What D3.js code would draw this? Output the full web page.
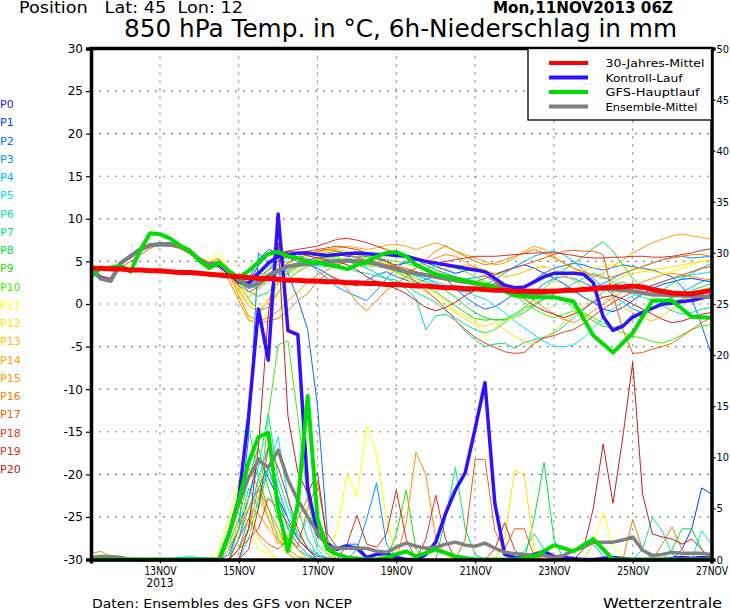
<!DOCTYPE html>
<html>
<head>
<meta charset="utf-8">
<script src="https://cdn.jsdelivr.net/npm/d3@7"></script>
<style>
  body { margin: 0; background: #fff; }
  svg { display: block; font-family: "DejaVu Sans", sans-serif; }
</style>
</head>
<body>
<div id="chart"></div>
<script>
// GFS ensemble, run Mon 11NOV2013 06Z, 6-hourly steps (64 steps up to 27NOV 00Z)
var runStart = Date.UTC(2013, 10, 11, 6);
var stepCount = 64;

var xTickDays = [13, 15, 17, 19, 21, 23, 25, 27];
var tempTicks = [-30, -25, -20, -15, -10, -5, 0, 5, 10, 15, 20, 25, 30];
var precipTicks = [0, 5, 10, 15, 20, 25, 30, 35, 40, 45, 50];

var memberNames = ['P0','P1','P2','P3','P4','P5','P6','P7','P8','P9','P10',
  'P11','P12','P13','P14','P15','P16','P17','P18','P19','P20'];
var memberColors = ['#3010ff','#0040ff','#0070ff','#0090ff','#00b0ff','#00e0ff',
  '#00e0b0','#00e080','#00e040','#20e000','#40f000','#ffff00','#ffe000',
  '#ffc000','#ffa000','#ff9000','#f08000','#f06000','#e04020','#d03020','#c02020'];

var legendNames = ['30-Jahres-Mittel', 'Kontroll-Lauf', 'GFS-Hauptlauf', 'Ensemble-Mittel'];

// 30-Jahres-Mittel (850 hPa temperature)
var climMean = [
  4.2,4.2,4.1,4.1,4.0,4.0,3.9,3.9,
  3.8,3.7,3.7,3.6,3.5,3.4,3.3,3.2,
  3.1,3.0,3.0,2.9,2.8,2.8,2.7,2.7,
  2.6,2.6,2.5,2.5,2.4,2.4,2.3,2.3,
  2.2,2.1,2.1,2.0,1.9,1.9,1.8,1.8,
  1.7,1.6,1.6,1.5,1.5,1.5,1.5,1.5,
  1.6,1.6,1.7,1.8,1.9,2.0,2.0,2.1,
  2.0,1.7,1.5,1.3,1.2,1.2,1.4,1.6];

// Kontroll-Lauf
var controlTemp = [
  4.0,3.1,2.8,4.8,5.6,6.4,6.9,7.0,
  7.0,6.8,6.2,5.2,4.6,4.6,3.6,2.6,
  2.4,3.6,4.8,5.6,5.8,6.0,6.0,5.8,
  5.7,5.8,5.9,6.0,5.9,5.8,5.8,5.7,
  5.6,5.3,5.0,4.8,4.6,4.4,4.2,4.0,
  3.8,3.0,2.2,1.9,2.0,2.6,3.2,3.6,
  3.6,3.6,3.5,2.5,-1.5,-3.1,-2.6,-1.5,
  -1.0,-0.5,0.0,0.1,0.3,0.4,0.7,1.0];
var controlPrecip = [
  0,0,0,0,0,0,0,0,
  0,0,0,0,0,0,2.5,6,
  14,24.5,19.5,33.8,22.4,22,7,2.5,
  1.5,1.0,1.3,1.1,0.2,0.5,0.6,0.2,
  0,0,0.5,1.7,4.5,6.8,8.5,12.8,
  17.3,5.5,0.5,0.2,0.2,0.5,0.8,0.3,
  0.2,0.1,0,0,0.1,0.2,0.1,0,
  0,0,0,0.1,0.2,0.1,0.2,0.1];

// GFS-Hauptlauf (12-hourly after day 8)
var gfsTemp = [
  3.2,4.2,4.3,4.5,3.8,6.3,8.3,8.2,
  7.7,6.9,6.3,5.1,4.2,4.9,3.9,3.1,
  3.9,4.9,5.9,6.1,5.6,5.4,4.9,4.9,
  4.6,4.4,4.1,4.6,4.9,5.6,6.0,6.1,
  5.6,4.6,null,3.5,null,3.0,null,2.5,
  null,2.0,null,1.0,null,0.8,null,0.8,
  null,0.3,null,-3.7,null,-5.7,null,-3.4,
  null,0.4,null,0.4,null,-1.5,null,-1.6];
var gfsPrecip = [
  0,0,0,0,0,0,0,0,
  0,0,0,0,0,0,2.5,5.8,
  9.5,12.0,12.4,5,0.8,5.5,16,4,
  1,0.5,0.2,0.1,0,0,0.2,0.5,
  0.8,0.3,null,1.0,null,0.3,null,0,
  null,0,null,0,null,0.3,null,1.4,
  null,0.8,null,2.0,null,0,null,0,
  null,0,null,0,null,0,null,0];

// Ensemble-Mittel
var ensMeanTemp = [
  4.0,3.0,2.7,4.8,5.6,6.4,6.9,7.0,
  7.0,6.8,6.2,5.2,4.6,4.8,3.8,2.8,
  2.1,2.4,3.3,3.9,4.4,4.6,4.7,4.8,
  5.0,5.0,5.1,5.0,4.9,4.7,4.4,4.1,
  3.8,3.6,3.4,3.2,3.0,2.8,2.6,2.4,
  2.2,2.0,1.8,1.5,1.3,1.2,1.3,1.4,
  1.5,1.6,1.7,1.8,1.8,1.7,1.6,1.5,
  1.3,1.1,1.1,1.0,1.0,0.9,0.9,0.8];
var ensMeanPrecip = [
  0.2,0.3,0.3,0.2,0,0,0,0,
  0,0,0,0,0,0,2.5,5.5,
  8.0,9.7,9.0,10.7,7.8,5.8,4.2,2.6,
  1.3,1.1,1.1,1.1,1.1,0.8,0.7,1.2,
  1.6,1.3,1.1,1.2,1.5,1.7,1.4,1.3,
  1.6,1.1,0.7,0.6,0.5,0.4,0.4,0.2,
  0.4,0.9,1.2,1.7,1.7,1.7,1.9,2.2,
  0.9,0.4,0.5,0.7,0.6,0.6,0.6,0.5];

// members P1..P20: temperature
var memberTemp = [
  [4.1,3.2,2.9,4.6,5.5,6.2,6.8,7.1, 7.2,6.9,6.0,5.1,4.4,4.9,3.9,2.5, 2.6,4.5,5.8,6.2,6.0,5.5,5.2,5.4, 5.6,5.8,5.6,5.5,5.6,5.3,5.0,4.6,
   4.8,5.2,4.9,4.4,4.0,3.6,3.9,4.2, 3.8,3.5,3.9,4.3,4.6,4.2,3.6,3.0, 2.4,1.6,0.8,0.2,-0.6,-0.9,-0.4,0.4, 1.2,1.8,2.3,2.6,2.9,3.0,2.8,2.6],
  [3.9,3.0,2.8,5.0,5.8,6.6,7.0,7.0, 6.9,6.7,6.2,5.3,4.7,4.9,3.6,2.8, 2.9,5.2,6.4,6.0,5.4,5.0,4.6,4.2, 3.5,2.8,2.4,2.1,2.8,3.4,3.8,3.2,
   2.8,2.4,2.9,3.3,3.0,1.8,0.8,0.0, -0.6,-0.3,0.4,1.2,2.0,2.8,3.6,4.2, 4.5,4.8,4.6,4.2,4.0,4.3,4.6,4.4, 4.2,4.0,3.6,3.2,2.0,0.6,-2.5,-6.0],
  [4.2,3.3,3.0,4.9,5.7,6.5,7.0,7.2, 7.1,6.9,6.4,5.5,4.8,5.0,4.0,3.2, 3.0,3.6,4.6,5.4,5.8,5.9,5.0,3.9, 3.0,2.0,1.4,0.9,0.4,1.6,3.0,4.2,
   5.0,5.2,4.6,4.0,3.6,3.2,2.9,3.1, 3.3,2.6,1.8,1.0,0.8,1.4,2.4,3.0, 3.2,3.0,2.5,2.0,2.4,3.0,3.6,4.0, 4.4,4.8,5.2,5.5,5.6,5.4,5.5,5.6],
  [3.8,2.8,2.6,4.7,5.4,6.2,6.7,6.9, 6.9,6.6,6.0,5.0,4.5,4.6,3.5,2.4, 1.8,2.2,3.0,3.6,4.3,4.8,5.0,5.3, 5.5,5.2,5.0,4.8,4.5,4.4,4.2,3.9,
   3.6,3.3,3.0,2.4,1.9,1.6,1.4,1.6, 2.2,2.9,3.6,4.4,5.0,5.6,6.0,6.2, 5.8,5.0,4.0,3.0,2.0,1.0,0.2,-0.6, -1.0,-0.4,0.2,0.8,1.4,2.0,2.6,3.0],
  [4.0,3.1,2.8,4.8,5.6,6.3,6.8,6.9, 6.8,6.6,6.0,5.2,4.7,4.9,4.0,3.0, 2.2,1.8,2.6,3.4,4.0,4.4,4.6,4.5, 4.4,4.6,4.9,5.0,4.8,4.5,4.3,4.0,
   3.7,3.4,3.0,2.6,2.2,1.9,1.6,1.0, 0.6,-0.2,-1.0,-2.0,-2.8,-3.6,-4.4,-5.0, -5.0,-4.8,-4.0,-2.8,-1.6,-0.6,0.2,1.0, 1.6,2.2,2.6,3.0,3.2,3.4,3.6,3.8],
  [4.1,3.0,2.6,4.9,5.6,6.4,6.9,7.0, 7.0,6.8,6.3,5.3,4.6,4.7,3.9,3.0, 2.4,2.8,3.6,4.2,4.6,4.8,5.0,5.1, 5.0,4.6,4.2,3.8,3.6,3.3,3.0,2.8,
   2.2,1.4,0.8,0.2,-0.8,-1.6,-2.4,-3.0, -3.4,-3.0,-2.2,-1.4,-0.6,0.0,0.6,1.2, 1.8,2.4,3.0,3.6,3.2,2.6,1.8,1.2, 0.8,0.4,-0.2,-0.8,-1.2,-1.0,-0.6,-0.4],
  [3.9,2.9,2.6,4.7,5.5,6.3,6.9,7.1, 7.0,6.8,6.2,5.2,4.5,4.6,3.8,2.9, 2.5,3.4,4.4,5.0,5.6,5.9,6.1,6.0, 5.8,5.4,5.0,4.6,4.2,3.6,3.0,2.4,
   1.8,0.6,-3.0,-1.4,-1.2,-1.9,-3.2,-4.2, -5.0,-4.7,-4.6,-5.2,-4.5,-4.2,-3.9,-3.4, -2.6,-1.6,-0.6,0.4,1.4,2.2,2.6,2.0, 1.2,1.0,1.6,2.4,3.0,3.6,4.2,4.8],
  [4.0,3.0,2.8,4.9,5.8,6.6,7.1,7.2, 7.1,6.9,6.3,5.3,4.7,4.8,3.7,2.6, 1.5,0.9,1.4,2.6,3.6,4.4,4.9,5.2, 5.4,5.6,5.8,5.5,5.2,4.9,4.5,4.0,
   3.5,3.0,2.6,2.2,1.6,0.8,-0.2,-1.0, -1.6,-1.9,-1.8,-1.2,-0.4,0.6,1.8,3.0, 4.0,4.8,5.6,6.6,7.3,6.2,4.6,3.0, 2.0,1.4,1.0,0.8,1.0,1.6,2.0,2.4],
  [4.2,3.2,2.8,4.6,5.4,6.2,6.8,7.0, 6.9,6.7,6.1,5.1,4.5,4.7,3.6,2.2, 0.6,-0.8,-0.4,1.4,2.8,3.8,4.4,4.8, 5.0,5.2,5.3,5.2,5.0,4.7,4.3,3.8,
   3.2,2.6,2.0,1.4,0.6,-0.2,-1.0,-1.7, -1.9,-1.8,-1.9,-1.6,-1.0,-0.2,0.6,1.0, 0.4,-0.4,-1.2,-2.0,-2.6,-2.8,-2.4,-1.8, -1.2,-0.6,-0.2,0.2,0.6,1.0,1.2,1.4],
  [3.8,2.9,2.7,4.8,5.7,6.5,7.0,7.1, 7.0,6.8,6.2,5.2,4.6,4.7,3.9,3.0, 2.6,3.2,4.0,4.6,5.0,5.2,5.5,5.8, 6.0,6.2,6.0,5.8,5.6,5.4,5.2,5.0,
   4.8,4.4,4.2,4.4,4.6,4.2,3.8,3.2, 2.6,2.2,1.8,1.0,0.2,-0.6,-1.2,-1.6, -1.2,-0.8,-1.0,-1.6,-2.2,-2.8,-3.4,-3.8, -4.0,-4.4,-4.6,-4.2,-3.6,-3.0,-2.6,-2.4],
  [4.2,3.2,2.9,5.0,5.8,6.6,7.0,7.0, 6.8,6.6,6.0,5.4,5.2,6.1,4.0,1.2, -1.6,-2.4,-1.0,1.2,3.0,4.2,4.8,5.2, 5.4,5.5,5.2,4.8,4.6,4.4,4.6,4.8,
   3.6,3.0,2.2,1.2,0.4,-0.8,-1.4,-1.9, -4.0,-2.8,-2.0,-1.6,-0.6,0.4,1.4,2.2, 3.6,3.8,4.0,4.2,4.4,4.6,4.4,4.2, 4.0,3.8,3.6,3.8,4.2,4.6,5.0,5.2],
  [4.0,3.1,2.7,4.7,5.5,6.3,6.8,7.0, 7.0,6.7,6.1,5.3,4.9,5.4,3.8,1.8, 0.2,-0.6,0.6,2.4,3.8,4.6,5.0,5.4, 5.8,6.0,5.8,5.4,5.0,4.8,4.2,3.6,
   3.0,2.2,1.4,0.6,-0.2,-1.0,-1.8,-2.4, -2.6,-2.2,-3.0,-3.8,-4.4,-4.8,-4.0,-3.2, -2.2,-1.2,-0.2,0.8,1.8,2.6,3.2,3.6, 3.8,4.0,4.2,4.4,4.6,4.8,5.0,5.2],
  [4.1,3.2,2.9,4.9,5.6,6.4,6.9,7.0, 6.9,6.7,6.2,5.3,4.6,4.7,3.6,2.0, 0.8,1.6,3.0,4.0,4.8,5.4,5.8,6.0, 6.2,6.4,6.2,5.8,5.4,5.0,4.8,4.4,
   4.0,3.6,3.4,3.8,4.2,4.4,4.6,4.4, 4.0,3.6,3.2,3.4,3.8,4.2,4.4,4.0, 3.4,2.8,2.0,1.4,0.8,0.2,-0.4,-1.0, -1.6,-2.0,-1.4,-0.6,0.2,1.0,1.6,2.0],
  [3.9,2.9,2.6,4.6,5.4,6.2,6.7,6.9, 6.9,6.6,6.0,5.1,4.5,4.6,3.4,1.6, -0.2,-1.0,0.4,2.4,3.8,4.8,5.6,6.2, 6.4,6.6,6.8,6.6,6.4,6.6,6.9,7.0,
   6.8,6.4,6.8,7.2,6.8,6.2,5.8,5.4, 5.0,4.6,4.8,5.4,6.2,6.8,6.4,5.6, 4.8,4.2,3.6,3.2,3.6,4.4,5.2,6.0, 6.6,7.2,7.6,8.0,8.2,8.0,7.8,7.6],
  [4.2,3.3,3.0,5.0,5.8,6.5,6.9,7.0, 6.9,6.7,6.2,5.4,4.9,5.3,3.6,1.0, -1.4,-2.0,-1.6,-0.8,0.4,1.4,2.6,3.4, 4.0,4.6,5.0,5.2,5.0,4.6,4.2,4.0,
   3.8,4.2,4.8,5.4,5.8,5.6,5.0,4.2, 3.4,2.6,2.0,1.6,1.0,0.4,-0.4,-1.2, -1.8,-2.2,-1.6,-0.8,0.0,0.8,1.4,2.0, 2.6,3.0,3.4,3.6,3.4,3.2,3.0,2.8],
  [4.0,3.0,2.7,4.8,5.6,6.3,6.8,6.9, 6.8,6.5,5.9,5.0,4.4,4.3,2.8,0.4, -1.9,-2.3,-2.0,-1.7,-0.8,0.4,1.2,2.7, 3.5,3.0,1.8,0.2,-0.8,0.4,1.6,2.4,
   3.2,4.2,5.2,6.2,6.8,6.2,5.6,5.0, 4.6,4.8,5.2,5.6,6.0,6.4,6.0,5.4, 4.8,4.2,3.8,3.4,3.0,3.2,3.6,4.0, 4.4,4.8,5.2,5.4,5.6,5.8,5.8,5.6],
  [3.9,2.9,2.7,4.2,5.0,5.8,6.5,7.1, 7.0,6.8,6.2,5.2,4.6,4.5,3.4,2.2, 1.4,2.0,3.0,4.0,4.8,5.4,5.8,6.2, 6.4,6.2,5.8,5.4,5.0,4.8,4.6,4.4,
   4.2,3.8,3.4,3.0,2.8,2.6,2.4,2.6, 3.0,3.4,3.8,4.2,4.6,5.0,5.4,5.8, 6.2,6.3,6.2,6.2,5.8,1.0,-3.0,-5.8, -5.7,-5.3,-5.0,-4.6,-3.8,-3.0,-2.2,-1.6],
  [4.1,3.1,2.8,4.8,5.6,6.4,6.9,7.1, 7.1,6.9,6.3,5.4,4.8,4.9,3.8,2.6, 2.0,2.8,4.0,5.0,5.6,6.0,6.2,6.4, 6.6,6.8,6.6,6.4,6.0,5.6,5.0,4.4,
   3.6,2.6,1.6,0.6,-0.6,-1.9,-3.0,-3.9, -4.6,-5.1,-5.6,-5.8,-5.7,-4.6,-4.0,-3.7, -3.3,-3.0,-2.3,-1.4,-0.6,0.2,0.8,1.4, 1.8,2.2,2.6,3.0,3.4,3.8,4.2,4.4],
  [4.0,3.0,2.6,4.7,5.6,6.4,6.9,7.0, 7.0,6.8,6.2,5.2,4.7,4.9,4.0,3.2, 3.0,3.8,4.8,5.6,6.2,6.4,6.6,6.8, 7.2,7.6,7.7,7.5,7.2,6.8,6.4,6.0,
   5.6,5.2,5.0,4.8,5.0,5.2,5.4,5.6, 5.6,5.6,5.7,5.8,5.9,6.0,6.0,6.0, 5.9,5.7,5.5,5.4,5.4,5.5,5.5,5.6, 5.6,5.5,5.5,5.6,5.8,6.0,6.3,6.5],
  [4.1,3.2,2.9,4.9,5.7,6.5,7.0,7.1, 7.0,6.8,6.3,5.3,4.6,4.7,3.9,3.1, 2.8,3.6,4.8,5.9,6.2,6.0,5.7,5.4, 5.2,5.0,4.6,4.0,3.2,2.6,2.2,1.8,
   1.2,0.4,-0.4,-0.8,-0.4,0.2,1.0,1.6, 2.0,2.4,2.0,1.4,0.6,-0.2,-0.8,-1.2, -1.6,-1.2,-0.6,0.2,0.8,1.0,0.6,0.0, -0.6,-1.2,-1.8,-2.2,-2.0,-1.6,-1.2,-1.0]
];

// members P1..P20: 6h precipitation
var memberPrecip = [
  [0,0,0,0,0,0,0,0, 0,0,0,0,0,0,1,3, 6,10,8,6,4,2,1,0.3, 0.2,0,0,0,0,0,0,0,
   0,0,0,0,0,0,0,0, 0,0,0,0,0,0,0,0, 0,0,0,0,0,0,0,0, 0,0,0,0,1,3,7,6.4],
  [0,0,0,0,0,0,0,0, 0,0,0,0,0,0,0.5,3, 12,30,29,29.5,28,25.5,22.5,15, 2.5,1.2,1.5,1.5,0.3,0,0,0,
   0,0,0,0,0,0,0,0, 0,0,0,0,0,0,0,0, 0,0,0,0,0,0,0,0, 0,0,0,0,0,0,0,0],
  [0,0,0,0,0,0,0,0, 0,0,0,0,0,0,0,2, 5,7,9,6,3,1.5,0.5,0, 0,0,0,1,4,7.5,1.5,0.2,
   0,0,0,0,0,0,0,0, 0,0,0,0,0,0,0,0, 0,0,0,0,0,0,0,0, 0,0,0,0,0,0,0,0],
  [0,0,0,0,0,0,0,0, 0,0,0,0,0,0,0,1, 4,8,11,7,4,2,1,0, 0,0,0,0,0,0,0,0,
   0,0,0,0,0,0,0,0, 0,0,0,0,0,0,0,0, 0,0,0,1.5,0.3,0,0,0, 0,0,0,0,0,0,0,0],
  [0,0,0,0,0,0,0,0, 0,0.2,0.3,0.2,0,0,0,0, 2,6,9,12,6,2,4,1, 0,0,0,0,0,0,0,0,
   0,0,0,0,0,0,0,0, 0,0,0,0,0,0,0,0, 0,0,0,0,0,0,0,0, 0,0,0,0,0,0,2.8,1.5],
  [0,0,0,0,0,0,0,0, 0,0,0,0,0,0,0,2, 6,9,14.3,8,5,2.5,1.2,0.5, 0,0,0,0,0,0,0,0,
   0,0,0,0,0,0,0,0, 0,0,0,0,0.8,2.5,1,0, 0,0,0,0,0,0,0,0, 1,4.1,2.8,0.5,0,0,0,0],
  [0,0,0,0,0,0,0,0, 0,0,0,0,0,0,0,3, 7,5,9,6,3,5,2,0.5, 0,0,0,0,0,0,0,0,
   0,0,0,0,4,9,3,0.5, 0,0,0,0,0,0,0,0, 0,0,0,0,0,0,0,0, 0,0,0,0,0,0,0,0],
  [0,0,0,0,0,0,0,0, 0,0,0,0,0,0,1.5,4, 8,11,7,4,2,1,0.3,0, 0,0,0,0,0,0,0,0,
   0,0,0,0,0,0,0,0, 0,0,0,0,0,4,9.5,2, 0,0,0,0,0,0,0,0, 0,0,0,1,3,3,1,0],
  [0,0,0,0,0,0,0,0, 0,0,0,0,0,0,2,6, 13,8,5,2,1,0.3,0,0, 0,0,0,0,0,0,0,2.5,
   6.8,1,0,0,0,0,0,0, 0,0,0,0,0,0,0,0, 0,0,0,0,0,0,0,0, 0,0,0,0,0,0,0,0],
  [0,0,0,0,0,0,0,0, 0,0,0,0,0,0,0,1, 3,5,14,21,21.4,14,5.8,1.5, 0.5,0,0,0,0,0,0,0,
   0,0,0,0,0,0,0,0, 0,0,0,0,0,0,0,0, 0,0,0,0,0,0,0,0, 0,0,0,0,0,0,0,0],
  [0,0,0,0,0,0,0,0, 0,0,0,0,0,1,4,7.5, 3,1,0.5,0,0,0,0,0, 0,3,8.4,6.1,13,10.3,4,0.5,
   0,0,0,0,0,0,0,0, 0,0,0,0,0,0,0,0, 0,0,0,1.5,4.6,1.5,0,0, 0,0,0,0,0,0,0,0],
  [0,0,0,0,0,0,0,0, 0,0,0,0,0,0,2,5, 6,2,1,0,0,0,0,0, 0,0,0,0,0,0,0,0,
   0,0,0,0,0,0,0,0, 0,0,2,8.7,8.2,1,0,0, 0,0,0,0,0,0,0,0, 0,0,0,0,0,0,0,0],
  [0,0,0,0,0,0,0,0, 0,0,0,0,0,0,1,3.5, 5,6,4,2.5,1,0.3,0,0, 0,0,0,0,0,0,0,0,
   0,0,0,0,0,0,0,0, 0,0,0,0,0,0,0,0, 0,0,0,0,0,0,0,0, 0,0,0,0,0,0,0,0],
  [0,0,0,0,0,0,0,0, 0,0,0,0,0,0,1,3, 5,4.5,3,2,0.5,0,0,0, 0,0,0,0,0,0,0,0,
   0,0,0,0,0,0,0,0, 0,0,0,0,0,0,0,0, 0,0,0,0,0,0,0,0, 0,0,0,0,0,0,0,0],
  [0.6,0.8,0.3,0,0,0,0,0, 0,0,0,0,0,0,2,5, 9,7,4,1.5,2.5,1,0,0, 0,0,0,0,0,0,0,0,
   3.6,10.5,8.3,2,0.5,0,0,0, 0,0,0,0,0,0,0,0, 0,0,0,0,0,0,0,0, 0,0,0,0,0,0,0,0],
  [0,0,0,0,0,0,0,0, 0,0,0,0,0,0,0,1, 3,7,5,3,1,4,6,3, 1,0,0,0,0,0,0,0,
   0,0,0,0,0,0,0,0, 0,0,0,0,0,0,0,0, 0,0,0,0,0,0,0,3.9, 1,0,1.5,3.2,1,0,0,0],
  [0,0,0,0,0,0,0,0, 0,0,0,0,0,0,0,2, 4,2.5,1.5,1,2,1.2,5,7.5, 2,0.5,0,0,0,0,0,0,
   0,0,0,0,0,0,2,9.8, 9.8,2.8,1,3,3,0.3,0,0, 0,0,0,0,0,0,0,0, 0,0,0,0,0,0,0,0],
  [0,0,0,0,0,0,0,0, 0,0,0,0,0,0,0,1, 2,3,6,5,3.5,2,1,0, 0,0,0,0,0,0,0,0,
   0,0,0,0,0,0,0,0, 0,0,0,0,0,0,0,0, 0,0,0,0,0,0,0,0, 0,0,0,0,0,0,0,0],
  [0,0,0,0,0,0,0,0, 0,0,0,0,0,0,0,0, 1,5,11,9,6,3,1,0, 0,0,1.5,4.3,1.5,1.2,2.5,6.8,
   2,0,2,6.3,2,0,0,0, 0,1,3.6,1,0,0,0,0, 0,0,0,0,0,0,0,0, 0,0,0,0,0,0,0,0],
  [0,0,0,0,0,0,0,0, 0,0,0,0,0,0,0,0, 3,11,24,31,14,8.5,6.5,8.5, 1.5,0.5,0,0,0,0,0,0,
   0,0,0,0,0,0,0,0, 0,0,0,0,0,0,0,0, 0,0,1,5,11.3,5.5,12,19.3, 6.4,2.5,2.2,2.0,1.5,2.0,1.0,0]
];

var W = 730, H = 609;
var plotLeft = 91, plotRight = 711.5, plotTop = 48.5, plotBottom = 559.5;

var times = d3.range(stepCount).map(function(i) {
  return new Date(runStart + i * 6 * 3600 * 1000);
});
var xTickDates = xTickDays.map(function(d) { return new Date(Date.UTC(2013, 10, d)); });

var x = d3.scaleUtc().domain([times[0], times[stepCount - 1]]).range([plotLeft, plotRight]);
var yT = d3.scaleLinear().domain([-30, 30]).range([plotBottom, plotTop]);
var yP = d3.scaleLinear().domain([0, 50]).range([plotBottom, plotTop]);

var svg = d3.select('#chart').append('svg').attr('width', W).attr('height', H);
svg.append('rect').attr('width', W).attr('height', H).attr('fill', '#fff');

// grid
var grid = svg.append('g').attr('stroke', '#808080').attr('stroke-width', 1.2)
  .attr('stroke-dasharray', '2,6');
grid.selectAll('line.h')
  .data(tempTicks.filter(function(t) { return t > -30 && t < 30; }))
  .enter().append('line')
    .attr('x1', plotLeft).attr('x2', plotRight)
    .attr('y1', function(d) { return yT(d); })
    .attr('y2', function(d) { return yT(d); });
grid.selectAll('line.v')
  .data(xTickDates.slice(0, -1))
  .enter().append('line')
    .attr('x1', function(d) { return x(d); })
    .attr('x2', function(d) { return x(d); })
    .attr('y1', plotTop).attr('y2', plotBottom);

function points(arr) {
  return arr.map(function(v, i) { return [times[i], v]; })
    .filter(function(p) { return p[1] !== null; });
}
var lineT = d3.line().x(function(p) { return x(p[0]); }).y(function(p) { return yT(p[1]); });
var lineP = d3.line().x(function(p) { return x(p[0]); }).y(function(p) { return yP(p[1]); });

function drawSeries(g, arr, line, color, width) {
  g.append('path')
    .attr('d', line(points(arr)))
    .attr('fill', 'none')
    .attr('stroke', color)
    .attr('stroke-width', width)
    .attr('stroke-linejoin', 'round');
}

var lines = svg.append('g');

// ensemble members
memberTemp.forEach(function(arr, k) {
  drawSeries(lines, memberPrecip[k], lineP, memberColors[k + 1], 1);
  drawSeries(lines, arr, lineT, memberColors[k + 1], 1);
});

// main runs
drawSeries(lines, controlPrecip, lineP, memberColors[0], 3.5);
drawSeries(lines, controlTemp, lineT, memberColors[0], 3.5);
drawSeries(lines, ensMeanPrecip, lineP, '#808080', 3.5);
drawSeries(lines, ensMeanTemp, lineT, '#808080', 4);
drawSeries(lines, gfsPrecip, lineP, '#00dd00', 4);
drawSeries(lines, gfsTemp, lineT, '#00dd00', 4);
drawSeries(lines, climMean, lineT, '#ff0000', 5);

// axes
var axisFont = 12;
var leftAxis = svg.append('g').attr('transform', 'translate(' + plotLeft + ',0)')
  .call(d3.axisLeft(yT).tickValues(tempTicks).tickSize(5).tickPadding(3)
    .tickFormat(function(d) { return String(d); }));
var rightAxis = svg.append('g').attr('transform', 'translate(' + plotRight + ',0)')
  .call(d3.axisRight(yP).tickValues(precipTicks).tickSize(4).tickPadding(1)
    .tickFormat(function(d) { return String(d); }));
var fmt = d3.utcFormat('%d%b');
var bottomAxis = svg.append('g').attr('transform', 'translate(0,' + plotBottom + ')')
  .call(d3.axisBottom(x).tickValues(xTickDates).tickSize(4).tickPadding(3)
    .tickFormat(function(d) { return fmt(d).toUpperCase(); }));

[leftAxis, rightAxis, bottomAxis].forEach(function(a) {
  a.select('.domain').attr('stroke', '#000').attr('stroke-width', 3.5);
  a.selectAll('.tick line').attr('stroke', '#000').attr('stroke-width', 1.2);
  a.selectAll('.tick text').attr('font-family', '"DejaVu Sans", sans-serif')
    .attr('font-size', axisFont).attr('fill', '#000');
});
rightAxis.selectAll('.tick text')
  .attr('font-size', 11)
  .attr('textLength', function(d) { return String(d).length > 1 ? 12.5 : 6.5; })
  .attr('lengthAdjust', 'spacingAndGlyphs');
bottomAxis.selectAll('.tick text').attr('textLength', 32).attr('lengthAdjust', 'spacingAndGlyphs');

// top border
svg.append('line').attr('x1', plotLeft - 1.75).attr('x2', plotRight + 1.75)
  .attr('y1', plotTop).attr('y2', plotTop).attr('stroke', '#000').attr('stroke-width', 3.5);

svg.append('text').attr('x', x(xTickDates[0])).attr('y', 587).attr('text-anchor', 'middle')
  .attr('font-size', 11.5).attr('textLength', 27).attr('lengthAdjust', 'spacingAndGlyphs')
  .text('2013');

// legend
var legend = svg.append('g');
legend.append('rect').attr('x', 528).attr('y', plotTop).attr('width', plotRight - 528)
  .attr('height', 71.5).attr('fill', '#fff').attr('stroke', '#000').attr('stroke-width', 1.3);
var legendColors = ['#ff0000', memberColors[0], '#00dd00', '#808080'];
var legendY = [63, 77.5, 92, 106.5];
var legendLen = [99, 77, 94, 92];
legendNames.forEach(function(name, i) {
  legend.append('line').attr('x1', 549).attr('x2', 588)
    .attr('y1', legendY[i]).attr('y2', legendY[i])
    .attr('stroke', legendColors[i]).attr('stroke-width', 4);
  legend.append('text').attr('x', 605.5).attr('y', legendY[i] + 4)
    .attr('font-size', 11).attr('textLength', legendLen[i]).attr('lengthAdjust', 'spacingAndGlyphs')
    .text(name);
});

// member labels
svg.append('g').selectAll('text')
  .data(memberNames)
  .enter().append('text')
    .attr('x', 0)
    .attr('y', function(d, i) { return 108 + i * 18.25; })
    .attr('font-size', 11)
    .attr('fill', function(d, i) { return memberColors[i]; })
    .text(function(d) { return d; });

// titles
svg.append('text').attr('x', 19).attr('y', 12.5).attr('font-size', 15)
  .style('white-space', 'pre').attr('textLength', 224).attr('lengthAdjust', 'spacingAndGlyphs')
  .text('Position   Lat: 45  Lon: 12');
svg.append('text').attr('x', 493).attr('y', 12.5).attr('font-size', 15).attr('font-weight', 'bold')
  .attr('textLength', 180).attr('lengthAdjust', 'spacingAndGlyphs')
  .text('Mon,11NOV2013 06Z');
svg.append('text').attr('x', 124).attr('y', 36.5).attr('font-size', 24)
  .attr('textLength', 553).attr('lengthAdjust', 'spacingAndGlyphs')
  .text('850 hPa Temp. in \u00B0C, 6h-Niederschlag in mm');
svg.append('text').attr('x', 92).attr('y', 607.5).attr('font-size', 13)
  .attr('textLength', 260).attr('lengthAdjust', 'spacingAndGlyphs')
  .text('Daten: Ensembles des GFS von NCEP');
svg.append('text').attr('x', 603).attr('y', 607.5).attr('font-size', 14)
  .attr('textLength', 119).attr('lengthAdjust', 'spacingAndGlyphs')
  .text('Wetterzentrale');
</script>
</body>
</html>
